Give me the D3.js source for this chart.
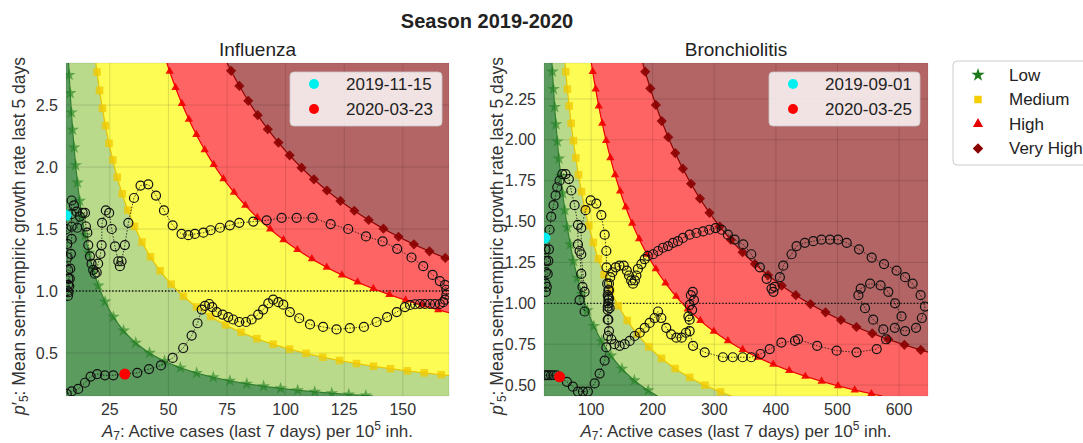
<!DOCTYPE html>
<html><head><meta charset="utf-8">
<script src="https://cdn.jsdelivr.net/npm/d3@7/dist/d3.min.js"></script>
<style>
body{margin:0;background:#fff;}
text{font-family:"Liberation Sans",Arial,Helvetica,sans-serif;}
</style>
</head><body>
<svg id="chart" width="1083" height="443"></svg>
<script>
// ---------------- DATA ----------------
const riskLevels = ["Low", "Medium", "High", "Very High"];
const fluThresholds = [21, 54, 140, 213];
const bronThresholds = [90, 142, 248, 454];

const fluXTicks = [25, 50, 75, 100, 125, 150];
const fluYTicks = [0.5, 1.0, 1.5, 2.0, 2.5];
const bronXTicks = [100, 200, 300, 400, 500, 600];
const bronYTicks = [0.5, 0.75, 1.0, 1.25, 1.5, 1.75, 2.0, 2.25];

const fluDates = ["2019-11-15", "2020-03-23"];
const bronDates = ["2019-09-01", "2020-03-25"];
const fluMarked = [[6.3, 1.61], [31.4, 0.33]];
const bronMarked = [[25, 1.40], [48.8, 0.55]];

// [A7, p'5] trajectory, Influenza
const fluTrajectory = [
[6.3,1.61],[6.5,1.50],[6.8,1.38],[7.0,1.27],[7.2,1.17],[7.3,1.10],[7.2,1.05],[7.0,1.00],[7.1,0.96],[7.4,0.99],
[7.7,1.04],[7.9,1.10],[8.1,1.18],[8.4,1.30],[8.7,1.42],[8.7,1.52],[8.6,1.62],[8.7,1.73],[9.7,1.69],[10.8,1.64],
[11.1,1.51],[12.2,1.60],[13.4,1.63],[14.4,1.63],[14.8,1.52],[15.4,1.47],[15.8,1.37],[16.5,1.28],[17.2,1.22],[17.9,1.17],
[18.6,1.14],[19.4,1.15],[20.0,1.22],[21.0,1.30],[21.5,1.37],[21.7,1.55],[23.3,1.65],[24.7,1.63],[25.8,1.50],[27.2,1.36],
[28.6,1.24],[29.3,1.20],[30.0,1.24],[31.4,1.37],[32.9,1.55],[35.3,1.75],[38.1,1.85],[41.4,1.86],[44.7,1.77],[48.1,1.65],
[51.8,1.53],[55.6,1.46],[58.5,1.45],[61.3,1.46],[64.9,1.47],[68.0,1.49],[72.0,1.51],[76.2,1.53],[80.2,1.55],[86.2,1.56],
[91.9,1.57],[98.3,1.59],[104.7,1.59],[111.5,1.59],[119.2,1.54],[126.7,1.50],[134.3,1.44],[141.4,1.40],[147.6,1.34],[153.7,1.27],
[158.7,1.20],[162.7,1.13],[165.8,1.08],[168.0,1.05],[168.6,1.01],[168.6,0.97],[168.0,0.93],[167.2,0.91],[165.8,0.895],[163.7,0.895],
[161.6,0.895],[159.4,0.895],[157.3,0.895],[155.2,0.893],[153.1,0.887],[150.9,0.87],[147.4,0.83],[143.3,0.79],[138.8,0.75],[133.4,0.71],
[127.4,0.70],[121.7,0.69],[116.0,0.71],[110.4,0.73],[105.8,0.78],[101.8,0.83],[99.0,0.89],[96.9,0.91],[94.7,0.93],[92.6,0.90],
[90.4,0.85],[88.3,0.81],[85.5,0.77],[83.1,0.75],[80.2,0.75],[77.6,0.77],[75.5,0.79],[73.1,0.81],[70.6,0.83],[68.7,0.87],
[67.4,0.895],[65.6,0.88],[64.2,0.85],[62.4,0.74],[59.9,0.64],[56.3,0.54],[51.8,0.46],[46.8,0.40],[41.7,0.37],[36.7,0.34],
[31.4,0.33],[26.5,0.32],[22.9,0.32],[19.6,0.33],[16.8,0.31],[14.4,0.26],[11.5,0.21],[8.7,0.19],[6.6,0.17]
];

// [A7, p'5] trajectory, Bronchiolitis
const bronTrajectory = [
[25,1.40],[26,1.33],[27,1.26],[26.5,1.19],[26,1.12],[26.5,1.07],[28,1.10],[29.5,1.18],[30.5,1.26],[31.5,1.33],
[32.5,1.45],[35.2,1.53],[39,1.60],[42.3,1.66],[45,1.71],[48.8,1.75],[53.2,1.79],[58.5,1.79],[63.9,1.76],[67.8,1.69],
[73.2,1.60],[78.6,1.48],[78.6,1.36],[81.3,1.32],[84,1.18],[86,1.10],[81.3,1.02],[89.4,0.95],[89.4,1.07],[84,1.30],
[84,1.46],[91,1.57],[99.2,1.63],[108.4,1.61],[116.6,1.54],[122,1.42],[124.7,1.32],[125,1.22],[126,1.12],[127,1.05],
[128,1.00],[130,0.97],[129,1.03],[128,1.08],[129,1.12],[131,1.16],[134.5,1.19],[140,1.22],[146,1.23],[153,1.23],
[158,1.20],[161.5,1.17],[165,1.14],[168,1.12],[171,1.14],[173.5,1.17],[176,1.21],[181.6,1.24],[187,1.27],[192,1.29],
[200.5,1.30],[208.6,1.32],[216.7,1.34],[225,1.35],[233,1.37],[241,1.38],[249,1.40],[260,1.42],[271,1.43],[282,1.44],
[292,1.45],[302,1.46],[312,1.45],[322,1.42],[333,1.39],[347,1.36],[360,1.30],[374,1.22],[385,1.15],[393,1.09],
[396,1.07],[398,1.10],[406.5,1.16],[412,1.23],[425.5,1.30],[433.6,1.35],[447,1.37],[460.7,1.38],[474,1.39],[487.8,1.39],
[501,1.39],[515,1.37],[535,1.33],[555.6,1.28],[575.6,1.24],[596,1.20],[609.8,1.16],[622,1.12],[635,1.05],[642,0.98],
[637,0.91],[627.6,0.85],[609.8,0.83],[593,0.85],[604,0.92],[593.5,1.00],[582.6,1.07],[570,1.11],[553,1.12],[537.7,1.09],
[534,1.05],[544.7,0.97],[558,0.90],[574.5,0.84],[579,0.78],[563.7,0.72],[531,0.70],[498.7,0.71],[467,0.74],[436,0.78],
[431,0.77],[409,0.76],[390,0.72],[375,0.69],[360,0.67],[346,0.67],[330,0.67],[314,0.67],[284.5,0.70],[265.5,0.74],
[260,0.83],[258,0.92],[260,0.99],[262,1.05],[265,1.07],[267,1.02],[264,0.96],[260,0.90],[254,0.82],[247,0.79],
[238.5,0.79],[230,0.81],[222,0.85],[214,0.91],[208.6,0.95],[203,0.91],[195,0.88],[187,0.85],[179,0.82],[170.7,0.80],
[162.6,0.77],[154.5,0.75],[146.3,0.74],[138,0.75],[132.8,0.78],[129,0.83],[128,0.90],[127,0.96],[128,1.02],[129,1.08],
[128,1.04],[127,0.98],[127,0.90],[127.3,0.80],[124.7,0.73],[122,0.65],[113.8,0.57],[105.7,0.51],[94.8,0.46],[86.7,0.46],
[78.6,0.46],[70.4,0.49],[60.7,0.52],[48.8,0.55],[44,0.56],[39,0.56],[35,0.56],[31,0.56],[28,0.56],[25,0.56]
];

// ---------------- STYLE ----------------
const bandColors = ["#5b9b5e", "#b9da8b", "#fcfc55", "#ff6464", "#b36464"];
const curveColors = ["#2f7d2f", "#e8c400", "#ee0000", "#8b0000"];
const markerFill = ["#1f7f1f", "#f0c800", "#ee0000", "#8b0000"];
const markerTypes = ["star", "square", "triangle", "diamond"];

const svg = d3.select("#chart");

svg.append("text").attr("x", 487).attr("y", 28).attr("text-anchor", "middle")
  .attr("font-size", 20).attr("font-weight", "bold").attr("fill", "#222").text("Season 2019-2020");

function symbolPath(type, size) {
  if (type === "star") return d3.symbol(d3.symbolStar, size)();
  if (type === "square") return d3.symbol(d3.symbolSquare, size)();
  if (type === "triangle") return d3.symbol(d3.symbolTriangle, size)();
  return d3.symbol(d3.symbolSquare, size)();
}
const symSize = {star: 50, square: 58, triangle: 30, diamond: 52};

function drawPanel(cfg) {
  const {id, left, top, right, bottom, xDomain, yDomain, xTicks, yTicks, yFmt, thresholds, traj, marked, dates, title} = cfg;
  const x = d3.scaleLinear().domain(xDomain).range([left, right]);
  const y = d3.scaleLinear().domain(yDomain).range([bottom, top]);
  const g = svg.append("g");
  g.append("clipPath").attr("id", "clip" + id).append("rect")
    .attr("x", left).attr("y", top).attr("width", right - left).attr("height", bottom - top);
  const pg = g.append("g").attr("clip-path", `url(#clip${id})`);

  // bands
  const N = 2500;
  const xs = d3.range(N + 1).map(i => xDomain[0] + (xDomain[1] - xDomain[0]) * i / N);
  const clampY = v => Math.max(yDomain[0], Math.min(yDomain[1], v));
  const ks = [0, ...thresholds, Infinity];
  for (let b = 0; b < 5; b++) {
    const area = d3.area()
      .x(d => x(d))
      .y0(d => y(ks[b] === 0 ? yDomain[0] : clampY(ks[b] / d)))
      .y1(d => y(ks[b + 1] === Infinity ? yDomain[1] : clampY(ks[b + 1] / d)));
    pg.append("path").attr("d", area(xs)).attr("fill", bandColors[b]);
  }

  // grid
  pg.selectAll(".gx").data(xTicks).enter().append("line")
    .attr("x1", d => x(d)).attr("x2", d => x(d)).attr("y1", top).attr("y2", bottom)
    .attr("stroke", "rgba(0,0,0,0.13)").attr("stroke-width", 1);
  pg.selectAll(".gy").data(yTicks).enter().append("line")
    .attr("y1", d => y(d)).attr("y2", d => y(d)).attr("x1", left).attr("x2", right)
    .attr("stroke", "rgba(0,0,0,0.13)").attr("stroke-width", 1);

  // p = 1 line
  pg.append("line").attr("x1", left).attr("x2", right).attr("y1", y(1)).attr("y2", y(1))
    .attr("stroke", "#111").attr("stroke-width", 1.3).attr("stroke-dasharray", "1.3,2");

  // threshold curves with markers
  thresholds.forEach((k, i) => {
    const x0 = Math.max(xDomain[0], k / yDomain[1]);
    const x1 = Math.min(xDomain[1], k / yDomain[0]);
    const M = 1500;
    const pts = d3.range(M + 1).map(j => {
      const xv = x0 + (x1 - x0) * j / M;
      return [x(xv), y(k / xv)];
    });
    pg.append("path").attr("d", d3.line()(pts)).attr("fill", "none")
      .attr("stroke", curveColors[i]).attr("stroke-width", 1.2);
    const spacing = 17;
    const mk = [];
    let acc = spacing * 0.5;
    for (let j = 1; j < pts.length; j++) {
      const dx = pts[j][0] - pts[j - 1][0], dy = pts[j][1] - pts[j - 1][1];
      acc += Math.hypot(dx, dy);
      if (acc >= spacing) { mk.push(pts[j]); acc = 0; }
    }
    const rot = markerTypes[i] === "diamond" ? 45 : 0;
    pg.selectAll(null).data(mk).enter().append("path")
      .attr("d", symbolPath(markerTypes[i], symSize[markerTypes[i]]))
      .attr("transform", d => `translate(${d[0]},${d[1]}) rotate(${rot})`)
      .attr("fill", markerFill[i]).attr("fill-opacity", i === 0 ? 0.6 : (i === 1 ? 0.75 : 0.9));
  });

  // trajectory
  pg.append("path").attr("d", d3.line().x(d => x(d[0])).y(d => y(d[1]))(traj))
    .attr("fill", "none").attr("stroke", "#111").attr("stroke-width", 0.8).attr("stroke-dasharray", "1.5,1.5");
  pg.selectAll(null).data(traj).enter().append("circle")
    .attr("cx", d => x(d[0])).attr("cy", d => y(d[1])).attr("r", 4.5)
    .attr("fill", "none").attr("stroke", "#111").attr("stroke-width", 1.2);
  pg.append("circle").attr("cx", x(marked[0][0])).attr("cy", y(marked[0][1])).attr("r", 5.5).attr("fill", "#00f0f0");
  pg.append("circle").attr("cx", x(marked[1][0])).attr("cy", y(marked[1][1])).attr("r", 5.5).attr("fill", "#ff0000");

  // frame
  g.append("rect").attr("x", left).attr("y", top).attr("width", right - left).attr("height", bottom - top)
    .attr("fill", "none").attr("stroke", "rgba(0,0,0,0.08)");

  // ticks
  g.selectAll(null).data(xTicks).enter().append("text")
    .attr("x", d => x(d)).attr("y", 415).attr("text-anchor", "middle")
    .attr("font-size", 16).attr("fill", "#333").text(d => d);
  g.selectAll(null).data(yTicks).enter().append("text")
    .attr("x", left - 8).attr("y", d => y(d) + 5.6).attr("text-anchor", "end")
    .attr("font-size", 16).attr("fill", "#333").text(d => yFmt(d));

  // titles
  const cx = (left + right) / 2;
  g.append("text").attr("x", cx).attr("y", 56).attr("text-anchor", "middle")
    .attr("font-size", 19).attr("fill", "#222").text(title);

  const xl = g.append("text").attr("x", cx).attr("y", 437).attr("text-anchor", "middle")
    .attr("font-size", 17).attr("fill", "#333");
  xl.append("tspan").attr("font-style", "italic").text("A");
  xl.append("tspan").attr("font-size", 12).attr("dy", 3).text("7");
  xl.append("tspan").attr("dy", -3).text(": Active cases (last 7 days) per 10");
  xl.append("tspan").attr("font-size", 12).attr("dy", -7).text("5");
  xl.append("tspan").attr("dy", 7).text(" inh.");

  const yl = g.append("text").attr("transform", `translate(${cfg.ylabX},236) rotate(-90)`)
    .attr("text-anchor", "middle").attr("font-size", 17.5).attr("fill", "#333");
  yl.append("tspan").attr("font-style", "italic").text("p");
  yl.append("tspan").text("′");
  yl.append("tspan").attr("font-size", 12).attr("dy", 3).text("5");
  yl.append("tspan").attr("dy", -3).text(": Mean semi-empiric growth rate last 5 days");

  // legend
  const lx = cfg.legX, lw = cfg.legW;
  g.append("rect").attr("x", lx).attr("y", 72).attr("width", lw).attr("height", 54).attr("rx", 4)
    .attr("fill", "rgba(255,255,255,0.82)").attr("stroke", "rgba(200,200,200,0.8)");
  const lcol = ["#00f0f0", "#ff0000"];
  dates.forEach((d, i) => {
    g.append("circle").attr("cx", lx + 24).attr("cy", 84 + i * 25).attr("r", 5).attr("fill", lcol[i]);
    g.append("text").attr("x", lx + 56).attr("y", 90 + i * 25).attr("font-size", 17).attr("fill", "#222").text(d);
  });
}

drawPanel({id: "f", left: 66, top: 63, right: 449, bottom: 396,
  xDomain: [6.3, 169.7], yDomain: [0.153, 2.839], xTicks: fluXTicks, yTicks: fluYTicks,
  yFmt: d3.format(".1f"), thresholds: fluThresholds, traj: fluTrajectory, marked: fluMarked,
  dates: fluDates, title: "Influenza", ylabX: 25, legX: 290, legW: 152});
drawPanel({id: "b", left: 544, top: 63, right: 928, bottom: 396,
  xDomain: [23.5, 647], yDomain: [0.433, 2.470], xTicks: bronXTicks, yTicks: bronYTicks,
  yFmt: d3.format(".2f"), thresholds: bronThresholds, traj: bronTrajectory, marked: bronMarked,
  dates: bronDates, title: "Bronchiolitis", ylabX: 503, legX: 769, legW: 151});

// outer risk legend
const og = svg.append("g");
og.append("rect").attr("x", 953).attr("y", 61).attr("width", 140).attr("height", 104).attr("rx", 4)
  .attr("fill", "#fff").attr("stroke", "#ccc");
riskLevels.forEach((lvl, i) => {
  const cy = 75 + i * 24.5;
  const t = markerTypes[i];
  og.append("path").attr("d", symbolPath(t, t === "triangle" ? 45 : 55))
    .attr("transform", `translate(978,${cy}) rotate(${t === "diamond" ? 45 : 0})`)
    .attr("fill", i === 0 ? "#1a7a1a" : (i === 1 ? "#f5cd00" : (i === 2 ? "#e60000" : "#8b0000")));
  og.append("text").attr("x", 1009).attr("y", cy + 5.5).attr("font-size", 17).attr("fill", "#222").text(lvl);
});
</script>
</body></html>
